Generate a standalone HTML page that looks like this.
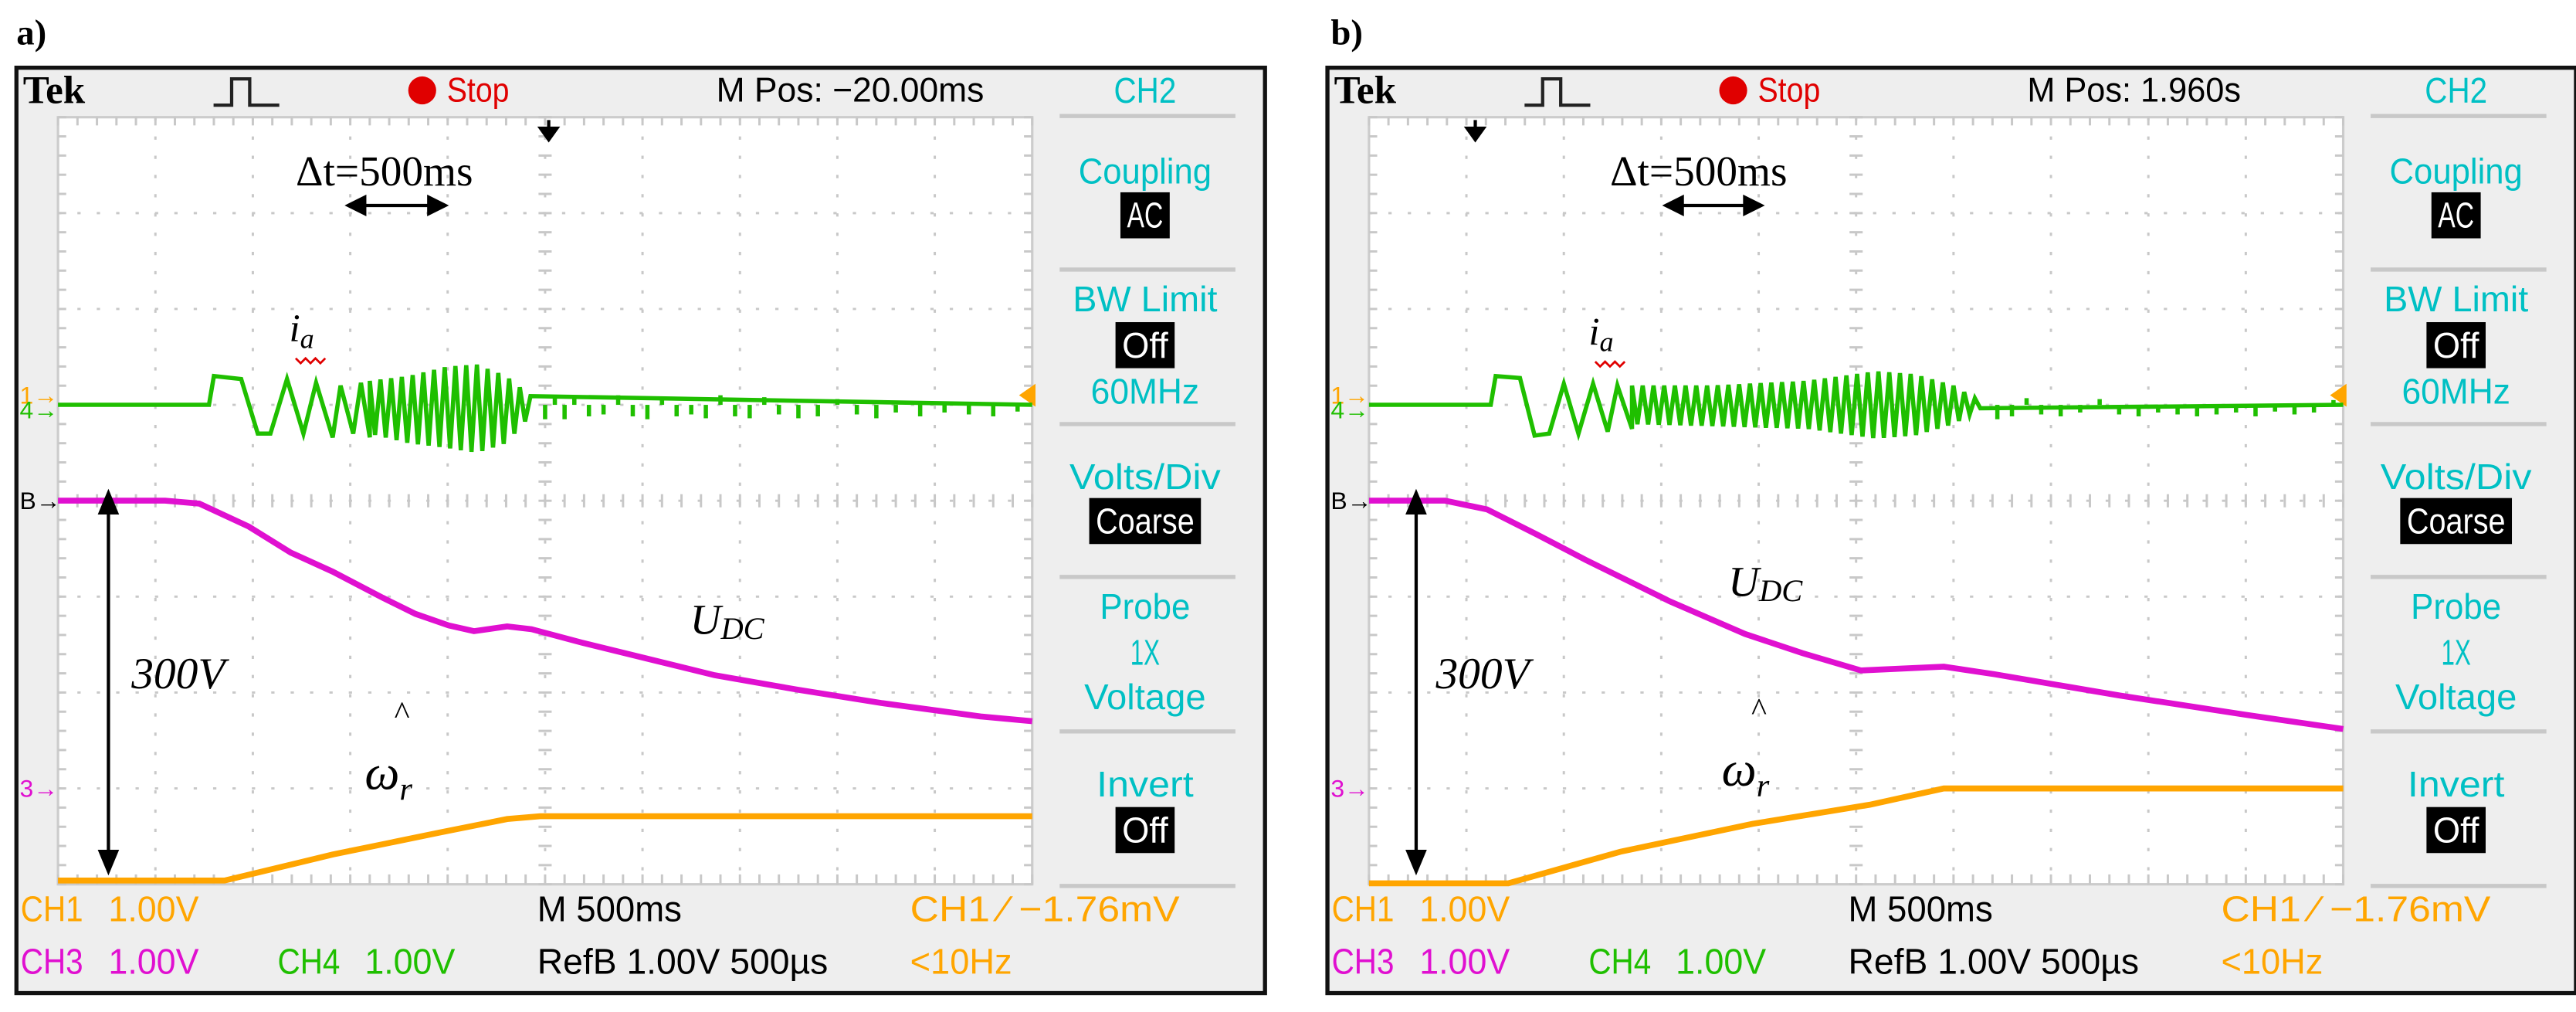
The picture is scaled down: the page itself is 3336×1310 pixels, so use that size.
<!DOCTYPE html>
<html><head><meta charset="utf-8"><style>
html,body{margin:0;padding:0;background:#fff;}
svg{display:block;}
text{font-family:"Liberation Sans Narrow","Liberation Sans",sans-serif;}
.serif{font-family:"Liberation Serif",serif;}
</style></head><body>
<svg id="fig" xmlns="http://www.w3.org/2000/svg" width="3336" height="1310" viewBox="0 0 1568 615.7" preserveAspectRatio="none"></svg>
<script>
// ---- data (time in divisions 0..10, 500ms/div; values in divisions relative to screen centre) ----
const udcA_t=[0,1.1,1.45,1.96,2.39,2.82,3.33,3.67,4.01,4.27,4.61,4.86,5.38,6.06,6.74,7.59,8.45,9.47,10];
const udcA_v=[0,0,-0.03,-0.27,-0.54,-0.74,-1.01,-1.18,-1.30,-1.36,-1.31,-1.34,-1.48,-1.65,-1.82,-1.97,-2.11,-2.25,-2.30];
const wrA_t=[0,1.71,2.82,3.92,4.61,4.95,10];
const wrA_v=[-3.96,-3.96,-3.69,-3.46,-3.32,-3.29,-3.29];
const udcB_t=[0,0.78,1.21,1.72,2.23,3.09,3.86,4.45,5.05,5.9,6.42,7.7,8.98,10];
const udcB_v=[0,0,-0.09,-0.35,-0.62,-1.05,-1.39,-1.59,-1.77,-1.73,-1.81,-2.03,-2.23,-2.38];
const wrB_t=[0,1.43,2.58,3.94,5.14,5.9,10];
const wrB_v=[-3.99,-3.99,-3.66,-3.37,-3.17,-3.0,-3.0];
// phase current: slow peaks, then dense envelope, then sparse spikes
const iaA_pt=[0,1.55,1.6,1.88,2.05,2.18,2.35,2.52,2.65,2.82,2.9,3.03,3.11,3.2];
const iaA_pv=[1,1,1.3,1.27,0.7,0.7,1.27,0.7,1.23,0.66,1.2,0.7,1.23,0.66];
const iaA_envT=[3.2,3.6,4.0,4.3,4.6,4.9];
const iaA_envUp=[1.25,1.3,1.4,1.42,1.3,1.05];
const iaA_envDn=[0.7,0.6,0.55,0.5,0.6,0.95];
const iaA_spT=[5.0,5.1,5.2,5.3,5.45,5.6,5.75,5.9,6.05,6.2,6.35,6.5,6.65,6.8,6.95,7.1,7.25,7.4,7.6,7.8,8.0,8.2,8.4,8.6,8.85,9.1,9.35,9.6,9.85];
const iaA_spV=[0.85,1.1,0.85,1.08,0.88,0.9,1.1,0.88,0.85,1.08,0.88,0.9,0.86,1.1,0.88,0.86,1.08,0.9,0.86,0.88,1.06,0.9,0.86,0.92,0.88,0.92,0.9,0.88,0.93];
const iaB_pt=[0,1.25,1.3,1.55,1.7,1.85,2.0,2.15,2.3,2.45,2.55,2.7];
const iaB_pv=[1,1,1.3,1.28,0.68,0.7,1.22,0.7,1.22,0.72,1.2,0.75];
const iaB_envT=[2.7,3.5,4.5,5.2,5.6,6.0,6.3];
const iaB_envUp=[1.2,1.2,1.25,1.35,1.32,1.2,1.02];
const iaB_envDn=[0.8,0.78,0.75,0.65,0.68,0.8,0.98];
const iaB_spT=[6.45,6.6,6.75,6.9,7.1,7.3,7.5,7.7,7.9,8.1,8.3,8.5,8.7,8.9,9.1,9.3,9.5,9.7,9.9];
const iaB_spV=[0.85,0.88,1.07,0.9,0.88,0.92,1.06,0.9,0.88,0.92,0.9,0.88,0.9,0.92,0.88,0.93,0.9,0.92,1.05];

const NS="http://www.w3.org/2000/svg";
const svg=document.getElementById('fig');
function mk(tag,attrs,parent){const e=document.createElementNS(NS,tag);for(const k in attrs)e.setAttribute(k,attrs[k]);(parent||svg).appendChild(e);return e;}
function txt(s,x,y,size,fill,parent,extra){const t=mk('text',Object.assign({x:x,y:y,'font-size':size,fill:fill,'dominant-baseline':'central'},extra||{}),parent);t.textContent=s;return t;}

const GL=35.3, GW=593, GT=71.3, GH=466.7, DIV=GW/10, DIVY=GH/8, CY=GT+GH/2;

function panel(dx,cfg){
  const g=mk('g',{transform:'translate('+dx+',0)'});
  
  
  const X=t=>GL+t*DIV, Y=v=>CY-v*DIVY;
  const lab=txt(cfg.label,cfg.labX,20,22,'#000',g,{'font-weight':'bold','class':'serif'});
  
  const fr=mk('rect',{x:10,y:41.2,width:760,height:563,fill:'#eeeeee',stroke:'#111','stroke-width':2.5},g);
  
  const gr=mk('rect',{x:GL,y:GT,width:GW,height:GH,fill:'#ffffff',stroke:'#cccccc','stroke-width':1.5},g);
  
  for(let i=1;i<10;i++){const l=mk('line',{x1:X(i),y1:GT,x2:X(i),y2:GT+GH,stroke:'#c8c8c8','stroke-width':1.4,'stroke-dasharray':'2 9.7'},g);}
  for(let i=1;i<8;i++){const l=mk('line',{x1:GL,y1:GT+i*DIVY,x2:GL+GW,y2:GT+i*DIVY,stroke:'#c8c8c8','stroke-width':1.4,'stroke-dasharray':'2 9.8'},g);}
  for(let i=0;i<=50;i++){const x=GL+i*GW/50;mk('line',{x1:x,y1:CY-4,x2:x,y2:CY+4,stroke:'#c8c8c8','stroke-width':1.4},g);mk('line',{x1:x,y1:GT+GH-6,x2:x,y2:GT+GH,stroke:'#c8c8c8','stroke-width':1.4},g);mk('line',{x1:x,y1:GT,x2:x,y2:GT+5,stroke:'#c8c8c8','stroke-width':1.4},g);}
  for(let i=0;i<=40;i++){const y=GT+i*GH/40;mk('line',{x1:GL+GW/2-4,y1:y,x2:GL+GW/2+4,y2:y,stroke:'#c8c8c8','stroke-width':1.4},g);mk('line',{x1:GL+GW-5,y1:y,x2:GL+GW,y2:y,stroke:'#c8c8c8','stroke-width':1.4},g);mk('line',{x1:GL,y1:y,x2:GL+5,y2:y,stroke:'#c8c8c8','stroke-width':1.4},g);}
  // header
  const tek=txt('Tek',14,55,24,'#000',g,{'font-weight':'bold','class':'serif'});
  const trg=mk('path',{d:'M130 64 H141 V48 H152 V64 H170',fill:'none',stroke:'#222','stroke-width':2},g);
  const dot=mk('circle',{cx:257,cy:55,r:8.5,fill:'#e00000'},g);
  const st=txt('Stop',272,55,21,'#e00000',g,{textLength:38,lengthAdjust:'spacingAndGlyphs'});
  const mp=txt(cfg.mpos,436,55,21,'#000',g,{textLength:cfg.mposW,lengthAdjust:'spacingAndGlyphs'});
  // menu
  const MX=697;
  const seps=[70.6,164,258,351,445,539];
  seps.forEach(y=>{const l=mk('line',{x1:645,y1:y,x2:752,y2:y,stroke:'#c8c8c8','stroke-width':2.5},g);});
  const cy='#00c0c4';
  function mt(s,y,name,w){const t=txt(s,MX,y,22,cy,g,{'text-anchor':'middle',textLength:w,lengthAdjust:'spacingAndGlyphs'});}
  function mb(s,y,w,name){const b=mk('rect',{x:MX-w/2,y:y-14,width:w,height:28,fill:'#000'},g);const t=txt(s,MX,y,22,'#fff',g,{'text-anchor':'middle',textLength:w-8,lengthAdjust:'spacingAndGlyphs'});}
  mt('CH2',55,'menu-ch2',38);
  mt('Coupling',104,'menu-coupling',81);mb('AC',131,30,'coupling-ac-button');
  mt('BW Limit',182,'menu-bw-limit',88);mb('Off',210,36,'bw-off-button');mt('60MHz',238,'menu-60mhz',66);
  mt('Volts/Div',290,'menu-volts-div',92);mb('Coarse',317,68,'volts-coarse-button');
  mt('Probe',369,'menu-probe',55);mt('1X',397,'menu-1x',18);mt('Voltage',424,'menu-voltage',74);
  mt('Invert',477,'menu-invert',59);mb('Off',505,36,'invert-off-button');
  // bottom readouts
  const OR='#ffa500',MG='#e010d0',GR='#1fbf00';
  [['CH1',12.6,553,OR,'ch1-label',38],['1.00V',66,553,OR,'ch1-scale',55],['M 500ms',327,553,'#000','timebase-readout',88],['CH1 \u2215 \u22121.76mV',554,553,OR,'trigger-readout',164],
   ['CH3',12.6,585,MG,'ch3-label',38],['1.00V',66,585,MG,'ch3-scale',55],['CH4',169,585,GR,'ch4-label',38],['1.00V',222,585,GR,'ch4-scale',55],['RefB 1.00V 500\u00b5s',327,585,'#000','refb-readout',177],['<10Hz',554,585,OR,'trigger-freq',62]].forEach(a=>{const t=txt(a[0],a[1],a[2],22,a[3],g,{textLength:a[5],lengthAdjust:'spacingAndGlyphs'});});
  // channel markers
  const m1=txt('1\u2192',12,CY-1.1*DIVY,15,OR,g);
  const m4=txt('4\u2192',12,CY-DIVY+3,15,GR,g);
  const mB=txt('B\u2192',12,CY,15,'#000',g);
  const m3=txt('3\u2192',12,CY+3*DIVY,15,MG,g);
  const tl=mk('path',{d:`M${GL+GW-8} ${CY-1.1*DIVY} l10 -7 v14 z`,fill:OR},g);
  // traces
  function line(ts,vs,col,name){let d='';ts.forEach((t,i)=>{d+=(i?'L':'M')+X(t).toFixed(1)+' '+Y(vs[i]).toFixed(1)+' ';});const p=mk('path',{d:d,fill:'none',stroke:col,'stroke-width':3.6,'stroke-linejoin':'miter'},g);}
  line(cfg.wt,cfg.wv,OR,'omega-r-trace');
  line(cfg.ut,cfg.uv,MG,'udc-trace');
  let d='';
  cfg.pt.forEach((t,i)=>{d+=(i?'L':'M')+X(t).toFixed(1)+' '+Y(cfg.pv[i]).toFixed(1)+' ';});
  const eT=cfg.eT;const step=0.055;let k=0;
  for(let t=eT[0];t<=eT[eT.length-1];t+=step,k++){
    let j=0;while(j<eT.length-2&&t>eT[j+1])j++;
    const f=(t-eT[j])/(eT[j+1]-eT[j]);
    const up=cfg.eU[j]+(cfg.eU[j+1]-cfg.eU[j])*f, dn=cfg.eD[j]+(cfg.eD[j+1]-cfg.eD[j])*f;
    const v=(k%2)?dn:up;
    d+='L'+X(t).toFixed(1)+' '+Y(v).toFixed(1)+' ';
  }
  d+='L'+X(10).toFixed(1)+' '+Y(1).toFixed(1);
  const ia=mk('path',{d:d,fill:'none',stroke:GR,'stroke-width':2.6},g);
  cfg.sT.forEach((t,i)=>{const s=mk('line',{x1:X(t),y1:Y(1),x2:X(t),y2:Y(cfg.sV[i]),stroke:GR,'stroke-width':2.6},g);});
  // annotations
  const tm=mk('path',{d:`M${cfg.trigX-5} 78 h10 l-5 7 z M${cfg.trigX} 73 v6`,fill:'#000',stroke:'#000','stroke-width':2},g);
  const dt=txt('\u0394t=500ms',cfg.dtX,104,26,'#000',g,{'class':'serif'});
  const da=mk('path',{d:`M${cfg.daX1+8} 125 H${cfg.daX2-8} M${cfg.daX1} 125 l10 -5 v10 z M${cfg.daX2} 125 l-10 -5 v10 z`,stroke:'#000','stroke-width':2,fill:'#000'},g);
  const va=mk('path',{d:`M${cfg.vX} 310 V524 M${cfg.vX} 300 l-5 12 h10 z M${cfg.vX} 530 l-5 -12 h10 z`,stroke:'#000','stroke-width':2,fill:'#000'},g);
  const v3=txt('300V',cfg.vTx,410,27,'#000',g,{'class':'serif','font-style':'italic'});
  const ial=mk('text',{x:cfg.iaX,y:cfg.iaY,'font-size':24,fill:'#000','class':'serif','font-style':'italic','dominant-baseline':'central'},g);
  ial.innerHTML='i<tspan font-size="17" dy="6">a</tspan>';
  const wv=mk('path',{d:`M${cfg.iaX+4} ${cfg.iaY+18} l3 3 l3 -3 l3 3 l3 -3 l3 3 l3 -3`,stroke:'#e00000','stroke-width':1.3,fill:'none'},g);
  const ul=mk('text',{x:cfg.uX,y:cfg.uY,'font-size':26,fill:'#000','class':'serif','font-style':'italic','dominant-baseline':'central'},g);
  ul.innerHTML='U<tspan font-size="19" dy="5">DC</tspan>';
  const hat=txt('^',cfg.wX+18,cfg.wY-36,20,'#000',g,{'class':'serif'});
  const wl=mk('text',{x:cfg.wX,y:cfg.wY,'font-size':30,fill:'#000','class':'serif','font-style':'italic','dominant-baseline':'central'},g);
  wl.innerHTML='\u03c9<tspan font-size="20" dy="10">r</tspan>';
}
panel(0,{name:'panel-a',label:'a)',labX:10,mpos:'M Pos: \u221220.00ms',mposW:163,
  ut:udcA_t,uv:udcA_v,wt:wrA_t,wv:wrA_v,pt:iaA_pt,pv:iaA_pv,eT:iaA_envT,eU:iaA_envUp,eD:iaA_envDn,sT:iaA_spT,sV:iaA_spV,
  trigX:334,dtX:180,daX1:212,daX2:271,vX:66,vTx:80,iaX:176,iaY:200,uX:420,uY:377,wX:222,wY:470});
panel(798,{name:'panel-b',label:'b)',labX:12,mpos:'M Pos: 1.960s',mposW:130,
  ut:udcB_t,uv:udcB_v,wt:wrB_t,wv:wrB_v,pt:iaB_pt,pv:iaB_pv,eT:iaB_envT,eU:iaB_envUp,eD:iaB_envDn,sT:iaB_spT,sV:iaB_spV,
  trigX:100,dtX:182,daX1:216,daX2:274,vX:64,vTx:76,iaX:169,iaY:202,uX:254,uY:354,wX:250,wY:468});
</script>
</body></html>
